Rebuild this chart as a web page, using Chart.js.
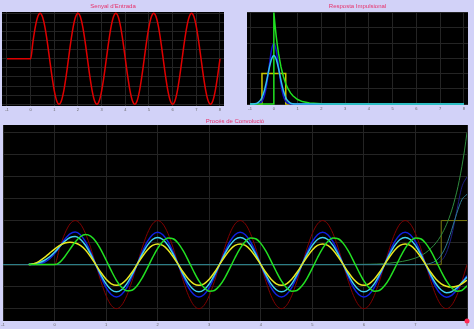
<!DOCTYPE html>
<html>
<head>
<meta charset="utf-8">
<script src="https://cdn.jsdelivr.net/npm/chart.js@4.4.1/dist/chart.umd.min.js"></script>
<style>
  html, body { margin: 0; padding: 0; background: #d2d2f8; }
  body { width: 474px; height: 329px; position: relative; overflow: hidden; }
  canvas { position: absolute; }
</style>
</head>
<body>
<canvas id="inputChart" width="237" height="118" style="left:0;top:0"></canvas>
<canvas id="impulseChart" width="237" height="118" style="left:237px;top:0"></canvas>
<canvas id="convChart" width="474" height="219" style="left:0;top:110px"></canvas>
<script>
// time axis (-1 .. 8, step 0.1)
const tGrid = [-1,-0.9,-0.8,-0.7,-0.6,-0.5,-0.4,-0.3,-0.2,-0.1,
  0,0.1,0.2,0.3,0.4,0.5,0.6,0.7,0.8,0.9,1,1.1,1.2,1.3,1.4,1.5,1.6,1.7,1.8,1.9,
  2,2.1,2.2,2.3,2.4,2.5,2.6,2.7,2.8,2.9,3,3.1,3.2,3.3,3.4,3.5,3.6,3.7,3.8,3.9,
  4,4.1,4.2,4.3,4.4,4.5,4.6,4.7,4.8,4.9,5,5.1,5.2,5.3,5.4,5.5,5.6,5.7,5.8,5.9,
  6,6.1,6.2,6.3,6.4,6.5,6.6,6.7,6.8,6.9,7,7.1,7.2,7.3,7.4,7.5,7.6,7.7,7.8,7.9,8];

// input signal x(t)
const inputSignal = [0,0,0,0,0,0,0,0,0,0,0,
  0.383,0.707,0.924,1,0.924,0.707,0.383,0,-0.383,-0.707,-0.924,-1,-0.924,-0.707,-0.383,0,
  0.383,0.707,0.924,1,0.924,0.707,0.383,0,-0.383,-0.707,-0.924,-1,-0.924,-0.707,-0.383,0,
  0.383,0.707,0.924,1,0.924,0.707,0.383,0,-0.383,-0.707,-0.924,-1,-0.924,-0.707,-0.383,0,
  0.383,0.707,0.924,1,0.924,0.707,0.383,0,-0.383,-0.707,-0.924,-1,-0.924,-0.707,-0.383,0,
  0.383,0.707,0.924,1,0.924,0.707,0.383,0,-0.383,-0.707,-0.924,-1,-0.924,-0.707,-0.383,0];

// impulse responses
const tImpulse = [-1,-0.9,-0.8,-0.7,-0.6,-0.5,-0.4,-0.3,-0.2,-0.1,0,0.1,0.2,0.3,0.4,0.5,0.6,0.7,0.8,0.9,1,2,8];
const gaussWide = [0,0.002,0.010,0.032,0.090,0.216,0.444,0.777,1.159,1.473,1.596,1.473,1.159,0.777,0.444,0.216,0.090,0.032,0.010,0.002,0,0,0];
const gaussNarrow = [0,0,0.001,0.004,0.022,0.088,0.270,0.648,1.210,1.760,1.995,1.760,1.210,0.648,0.270,0.088,0.022,0.004,0.001,0,0,0,0];
const tRect = [-1,-0.5,-0.5,0.5,0.5,8];
const rectPulse = [0,0,1,1,0,0];
const tExp = [-1,0,0,0.05,0.1,0.15,0.2,0.3,0.4,0.5,0.6,0.7,0.8,1,1.2,1.5,2,2.5,3,8];
const expDecay = [0,0,3,2.582,2.222,1.913,1.646,1.220,0.904,0.669,0.496,0.367,0.272,0.149,0.082,0.033,0.007,0.002,0,0];

// convolution outputs (-0.5 .. 8, step 0.1)
const tOut = tGrid.slice(5);
const outBlue = [0.001,0.005,0.019,0.055,0.128,
  0.250,0.410,0.574,0.698,0.740,0.680,0.520,0.281,0,
  -0.281,-0.520,-0.679,-0.735,-0.679,-0.520,-0.281,
  0,0.281,0.520,0.679,0.735,0.679,0.520,0.281,0,-0.281,-0.520,-0.679,-0.735,-0.679,-0.520,-0.281,
  0,0.281,0.520,0.679,0.735,0.679,0.520,0.281,0,-0.281,-0.520,-0.679,-0.735,-0.679,-0.520,-0.281,
  0,0.281,0.520,0.679,0.735,0.679,0.520,0.281,0,-0.281,-0.520,-0.679,-0.735,-0.679,-0.520,-0.281,
  0,0.281,0.520,0.679,0.735,0.679,0.520,0.281,
  0,-0.281,-0.520,-0.680,-0.740,-0.698,-0.574,-0.410,-0.250];
const outCyan = [0.007,0.019,0.045,0.094,0.173,
  0.282,0.409,0.531,0.615,0.636,0.577,0.439,0.237,0,
  -0.236,-0.437,-0.571,-0.618,-0.571,-0.437,-0.236,
  0,0.236,0.437,0.571,0.618,0.571,0.437,0.236,0,-0.236,-0.437,-0.571,-0.618,-0.571,-0.437,-0.236,
  0,0.236,0.437,0.571,0.618,0.571,0.437,0.236,0,-0.236,-0.437,-0.571,-0.618,-0.571,-0.437,-0.236,
  0,0.236,0.437,0.571,0.618,0.571,0.437,0.236,0,-0.236,-0.437,-0.571,-0.618,-0.571,-0.437,-0.236,
  0,0.236,0.437,0.571,0.618,0.571,0.437,0.236,
  0,-0.237,-0.439,-0.577,-0.636,-0.615,-0.531,-0.409,-0.282];
const outYellow = [0,0.019,0.075,0.157,0.255,
  0.352,0.435,0.490,0.509,0.490,0.435,
  0.333,0.180,0,-0.180,-0.333,-0.435,-0.471,-0.435,-0.333,-0.180,
  0,0.180,0.333,0.435,0.471,0.435,0.333,0.180,0,-0.180,-0.333,-0.435,-0.471,-0.435,-0.333,-0.180,
  0,0.180,0.333,0.435,0.471,0.435,0.333,0.180,0,-0.180,-0.333,-0.435,-0.471,-0.435,-0.333,-0.180,
  0,0.180,0.333,0.435,0.471,0.435,0.333,0.180,0,-0.180,-0.333,-0.435,-0.471,-0.435,-0.333,-0.180,
  0,0.180,0.333,0.435,0.471,0.435,0.333,0.180,0,-0.180,-0.333,
  -0.435,-0.490,-0.509,-0.490,-0.435,-0.352];
const outGreen = [0,0,0,0,0,
  0,0.053,0.185,0.352,0.514,0.633,0.682,0.646,0.526,0.336,0.104,-0.138,-0.356,-0.515,-0.595,-0.582,
  -0.478,-0.301,-0.078,0.158,0.370,
  0.525,0.602,0.587,0.482,0.304,0.080,-0.156,-0.369,-0.525,-0.602,-0.587,
  -0.482,-0.304,-0.080,0.156,0.369,0.525,0.602,0.587,0.482,0.304,0.080,-0.156,-0.369,-0.525,-0.602,-0.587,
  -0.482,-0.304,-0.080,0.156,0.369,0.525,0.602,0.587,0.482,0.304,0.080,-0.156,-0.369,-0.525,-0.602,-0.587,
  -0.482,-0.304,-0.080,0.156,0.369,0.525,0.602,0.587,0.482,0.304,0.080,-0.156,-0.369,-0.525,-0.602,-0.587,
  -0.482];

// flipped impulse responses at the current time t = 8
const currentTime = [8];
const tFlipExp = [-1,4,5,6,6.5,7,7.2,7.4,7.5,7.6,7.7,7.8,7.85,7.9,7.95,8];
const flipExp = [0,0,0.0004,0.007,0.033,0.149,0.272,0.496,0.669,0.904,1.220,1.646,1.913,2.222,2.582,3];
const tFlipGauss = [-1,7,7.1,7.2,7.3,7.4,7.5,7.6,7.7,7.8,7.9,8];
const flipGaussWide = [0,0,0.002,0.010,0.032,0.090,0.216,0.444,0.777,1.159,1.473,1.596];
const flipGaussNarrow = [0,0,0,0.001,0.004,0.022,0.088,0.270,0.648,1.210,1.760,1.995];
const tFlipRect = [-1,7.5,7.5,8];
const flipRect = [0,0,1,1];

// tick labels
const xTicks = [-1,0,1,2,3,4,5,6,7,8];
const inputYTicks = [-1,-0.8,-0.6,-0.4,-0.2,0,0.2,0.4,0.6,0.8,1];
const impulseYTicks = [0,0.5,1,1.5,2,2.5,3];
const convYTicks = [-1,-0.5,0,0.5,1,1.5,2,2.5,3];

const convYMin = -1.28;

const pts = (xs, ys) => xs.map((x, i) => ({ x: x, y: ys[i] }));

const plotBg = {
  id: 'plotBg',
  beforeDraw(chart) {
    const { ctx, chartArea: a } = chart;
    ctx.save();
    ctx.fillStyle = '#000';
    ctx.fillRect(a.left, a.top, a.width, a.height);
    ctx.restore();
  }
};

function axis(min, max, tickList, size) {
  return {
    type: 'linear',
    min: min,
    max: max,
    grid: { color: '#242424', lineWidth: 1, drawTicks: false },
    border: { display: false },
    ticks: { font: { size: 4 }, color: '#666', padding: 1, autoSkip: false, maxRotation: 0 },
    afterBuildTicks: s => { s.ticks = tickList.map(v => ({ value: v })); },
    afterFit: s => { if (s.isHorizontal()) s.height = size; else s.width = size; }
  };
}

function line(data, color, width, smooth) {
  return {
    data: data,
    borderColor: color,
    borderWidth: width,
    pointRadius: 0,
    cubicInterpolationMode: smooth ? 'monotone' : 'default',
    tension: 0
  };
}

function makeChart(id, opts) {
  new Chart(document.getElementById(id), {
    type: 'line',
    data: { datasets: opts.datasets },
    options: {
      responsive: false,
      animation: false,
      devicePixelRatio: 1,
      layout: { autoPadding: false, padding: opts.padding },
      plugins: {
        legend: { display: false },
        tooltip: { enabled: false },
        title: {
          display: true,
          text: opts.title,
          color: '#e8306a',
          font: { size: 6, weight: 'normal' },
          padding: opts.titlePad
        }
      },
      scales: {
        x: axis(opts.x[0], opts.x[1], xTicks, opts.xHeight),
        y: axis(opts.y[0], opts.y[1], opts.yTicks, 0)
      }
    },
    plugins: [plotBg]
  });
}

makeChart('inputChart', {
  title: "Senyal d'Entrada",
  padding: { left: 2, right: 13, top: 0, bottom: 0 },
  titlePad: { top: 2.4, bottom: 2.4 },
  xHeight: 12,
  x: [-1.21, 8.17],
  y: [-1.04, 1.03],
  yTicks: inputYTicks,
  datasets: [line(pts(tGrid, inputSignal), '#e00000', 1.5, true)]
});

makeChart('impulseChart', {
  title: 'Resposta Impulsional',
  padding: { left: 10, right: 6, top: 0, bottom: 0 },
  titlePad: { top: 2.4, bottom: 2.4 },
  xHeight: 13,
  x: [-1.13, 8.17],
  y: [-0.03, 3.02],
  yTicks: impulseYTicks,
  datasets: [
    line(pts(tImpulse, gaussWide), '#30c0f0', 1.5, true),
    line(pts(tExp, expDecay), '#20e020', 1.5, false),
    line(pts(tImpulse, gaussNarrow), '#1010d0', 1.5, true),
    line(pts(tRect, rectPulse), '#c8c800', 1.5, false)
  ]
});

const dot = {
  data: [{ x: currentTime[0], y: convYMin }],
  showLine: false,
  pointRadius: 2.5,
  pointBackgroundColor: '#ff2a55',
  pointBorderWidth: 0,
  clip: false
};

makeChart('convChart', {
  title: 'Procés de Convolució',
  padding: { left: 3, right: 7, top: 0, bottom: 0 },
  titlePad: { top: 7.4, bottom: 0.4 },
  xHeight: 8,
  x: [-1, 8],
  y: [convYMin, 3.17],
  yTicks: convYTicks,
  datasets: [
    dot,
    line(pts(tOut, outGreen), '#22e022', 1.5, true),
    line(pts(tOut, outYellow), '#e8e820', 1.5, true),
    line(pts(tOut, outCyan), '#40d0f0', 1.5, true),
    line(pts(tOut, outBlue), '#1020e0', 1.5, true),
    line(pts(tFlipGauss, flipGaussWide), '#2e7c92', 1, true),
    line(pts(tFlipExp, flipExp), '#2e8b3e', 1, true),
    line(pts(tFlipRect, flipRect), '#7a7a10', 1, false),
    line(pts(tFlipGauss, flipGaussNarrow), '#1c1c80', 1, true),
    line(pts(tGrid, inputSignal), '#800000', 1, true)
  ]
});
</script>
</body>
</html>
